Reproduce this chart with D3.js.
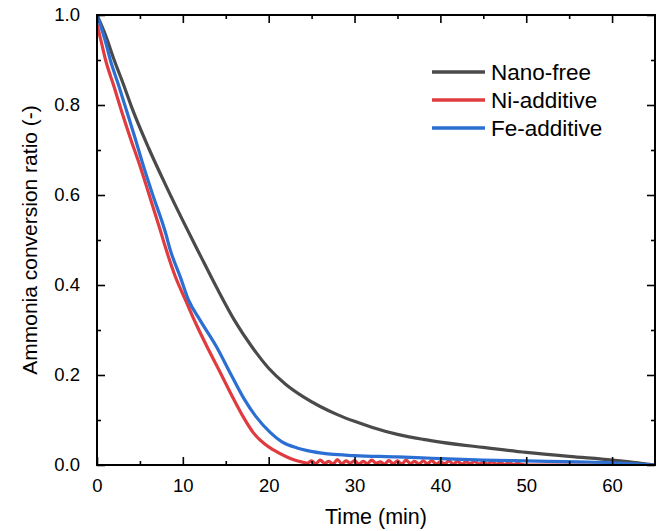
<!DOCTYPE html>
<html><head><meta charset="utf-8">
<script src="https://cdn.jsdelivr.net/npm/d3@7"></script>
<style>body{margin:0;background:#fff;} svg{display:block;font-family:"Liberation Sans",Arial,sans-serif;}</style>
</head><body>
<svg id="chart" width="662" height="531"></svg>
<script>
const seriesNames = ["Nano-free", "Ni-additive", "Fe-additive"];
const seriesColors = ["#4a4a4a", "#e03c40", "#2b6fd3"];

const nanoTime = [0,1,2,3,4,6,8,10,12,14,16,18,20,22,24,26,28,30,32,35,38,40,45,50,55,60,63,65];
const nanoVals = [1.0,0.955,0.90,0.85,0.797,0.705,0.622,0.543,0.467,0.392,0.322,0.264,0.215,0.179,0.152,0.13,0.112,0.097,0.084,0.068,0.057,0.051,0.039,0.028,0.019,0.011,0.005,0.0];

const niTime = [0,0.5,1,2,2.7,4,5,6,7.4,8,9.1,10.3,11.5,13,14.5,15.9,17,18.2,19.5,20.6,22,23,24,
  24.5,25,25.5,26,26.5,27,27.5,28,28.5,29,29.5,30,30.5,31,31.5,32,32.5,33,33.5,34,34.5,35,35.5,36,36.5,37,37.5,38,38.5,39,39.5,40,
  40.5,41,41.5,42,42.5,43,43.5,44,44.5,45,45.5,46,46.5,47,47.5,48,48.5,49,49.5,50,55,65];
const niVals = [0.98,0.94,0.90,0.84,0.796,0.72,0.665,0.605,0.52,0.482,0.42,0.367,0.315,0.256,0.2,0.147,0.108,0.072,0.047,0.033,0.019,0.011,0.006,
  0.004,0.009,0.003,0.011,0.004,0.008,0.002,0.012,0.003,0.009,0.004,0.010,0.002,0.008,0.003,0.011,0.004,0.007,0.002,0.010,0.003,0.009,0.002,0.011,0.003,0.008,0.002,0.009,0.003,0.010,0.002,0.007,
  0.003,0.009,0.002,0.008,0.002,0.007,0.003,0.008,0.002,0.006,0.002,0.007,0.002,0.005,0.001,0.006,0.001,0.004,0.001,0.0,0.0,0.0];

const feTime = [0,1,1.55,2.5,3.3,4.3,5.4,6.5,8,8.5,9.7,10.7,12,14,15.5,17.1,18.5,20.2,21.5,23.3,24.5,26,27.2,30,35,39,45,50,56,60,63,65];
const feVals = [1.0,0.94,0.90,0.845,0.796,0.735,0.665,0.60,0.515,0.48,0.418,0.365,0.322,0.26,0.205,0.148,0.108,0.072,0.052,0.038,0.032,0.027,0.024,0.021,0.018,0.015,0.011,0.009,0.007,0.005,0.002,0.0];

const xTicks = [0,10,20,30,40,50,60];
const yTicks = [0.0,0.2,0.4,0.6,0.8,1.0];
const xLabel = "Time (min)";
const yLabel = "Ammonia conversion ratio (-)";

const series = [
  {name: seriesNames[0], color: seriesColors[0], t: nanoTime, v: nanoVals},
  {name: seriesNames[1], color: seriesColors[1], t: niTime, v: niVals},
  {name: seriesNames[2], color: seriesColors[2], t: feTime, v: feVals}
];

const L = 97, R = 655, T = 15, B = 465;
const svg = d3.select("#chart");
const x = d3.scaleLinear().domain([0,65]).range([L,R]);
const y = d3.scaleLinear().domain([0,1]).range([B,T]);

svg.append("defs").append("clipPath").attr("id","clip")
  .append("rect").attr("x",L).attr("y",T).attr("width",R-L).attr("height",B-T);

const line = d3.line().x(d=>x(d[0])).y(d=>y(d[1])).curve(d3.curveMonotoneX);
const g = svg.append("g").attr("clip-path","url(#clip)");
series.forEach(s=>{
  g.append("path").datum(s.t.map((t,i)=>[t,s.v[i]]))
    .attr("d",line).attr("fill","none").attr("stroke",s.color)
    .attr("stroke-width",3.2).attr("stroke-linejoin","round");
});

// axes
const xMinor = [5,15,25,35,45,55];
const yMinor = [0.1,0.3,0.5,0.7,0.9];
const axisStyle = sel => { sel.select(".domain").remove(); sel.selectAll("line").attr("stroke","#000").attr("stroke-width",1.6); };

svg.append("g").attr("transform",`translate(0,${B})`)
  .call(d3.axisBottom(x).tickValues(xTicks).tickSize(-8).tickPadding(14).tickFormat(d3.format("d")))
  .call(axisStyle).call(s=>s.selectAll("text").attr("font-size",18.5).attr("fill","#000").attr("font-family","Liberation Sans, Arial"));
svg.append("g").attr("transform",`translate(0,${B})`)
  .call(d3.axisBottom(x).tickValues(xMinor).tickSize(-4).tickFormat(""))
  .call(axisStyle);
svg.append("g").attr("transform",`translate(0,${T})`)
  .call(d3.axisTop(x).tickValues(xTicks).tickSize(-8).tickFormat(""))
  .call(axisStyle);
svg.append("g").attr("transform",`translate(0,${T})`)
  .call(d3.axisTop(x).tickValues(xMinor).tickSize(-4).tickFormat(""))
  .call(axisStyle);

svg.append("g").attr("transform",`translate(${L},0)`)
  .call(d3.axisLeft(y).tickValues(yTicks).tickSize(-8).tickPadding(17).tickFormat(d3.format(".1f")))
  .call(axisStyle).call(s=>s.selectAll("text").attr("font-size",18.5).attr("fill","#000").attr("font-family","Liberation Sans, Arial"));
svg.append("g").attr("transform",`translate(${L},0)`)
  .call(d3.axisLeft(y).tickValues(yMinor).tickSize(-4).tickFormat(""))
  .call(axisStyle);
svg.append("g").attr("transform",`translate(${R},0)`)
  .call(d3.axisRight(y).tickValues(yTicks).tickSize(-8).tickFormat(""))
  .call(axisStyle);
svg.append("g").attr("transform",`translate(${R},0)`)
  .call(d3.axisRight(y).tickValues(yMinor).tickSize(-4).tickFormat(""))
  .call(axisStyle);

svg.append("rect").attr("x",L).attr("y",T).attr("width",R-L).attr("height",B-T)
  .attr("fill","none").attr("stroke","#000").attr("stroke-width",2);

// titles
svg.append("text").attr("x",(L+R)/2).attr("y",524).attr("text-anchor","middle")
  .attr("font-size",21.5).attr("fill","#000").text(xLabel);
svg.append("text").attr("transform",`translate(37,${(T+B)/2}) rotate(-90)`).attr("text-anchor","middle")
  .attr("font-size",21).attr("fill","#000").text(yLabel);

// legend
const legY = [72,100,128];
series.forEach((s,i)=>{
  svg.append("line").attr("x1",432).attr("x2",485).attr("y1",legY[i]).attr("y2",legY[i])
    .attr("stroke",s.color).attr("stroke-width",3.5);
  svg.append("text").attr("x",491).attr("y",legY[i]+7.5).attr("font-size",22.5).attr("fill","#000").text(s.name);
});
</script>
</body></html>
